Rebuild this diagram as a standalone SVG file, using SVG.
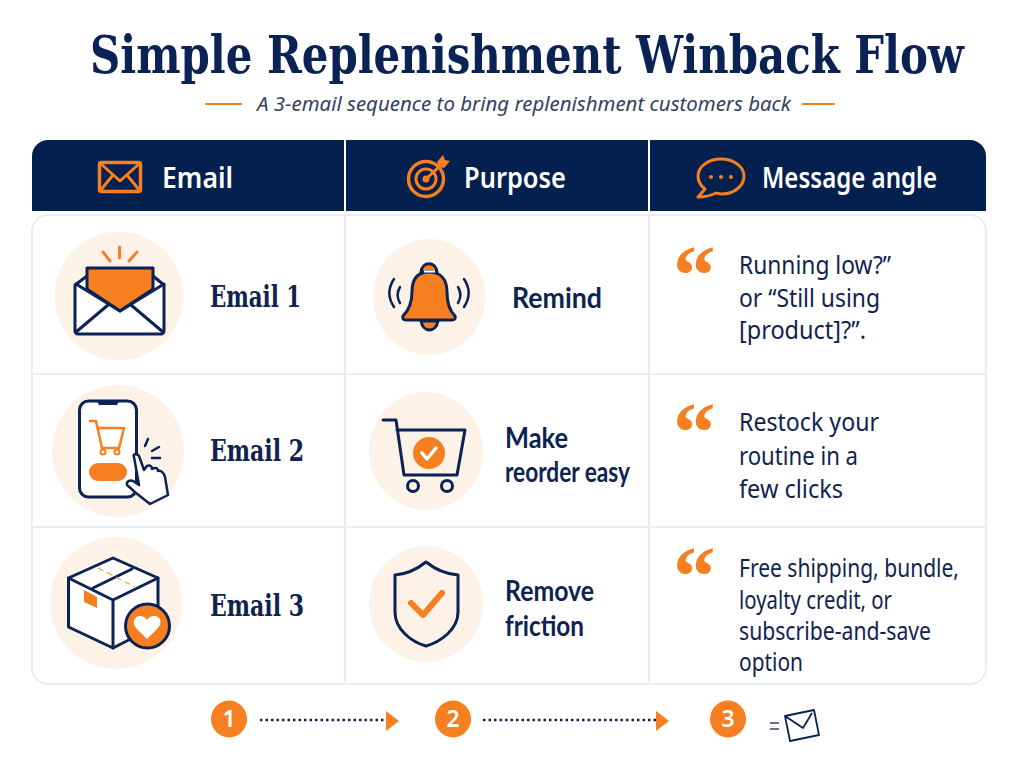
<svg xmlns="http://www.w3.org/2000/svg" width="1024" height="768" viewBox="0 0 1024 768">
<style>
text{font-family:"Noto Sans","Open Sans","Liberation Sans",sans-serif;fill:#0f2350}
.title{font-family:"DejaVu Serif","Liberation Serif",serif;font-stretch:condensed;font-weight:700;font-size:53px;fill:#0b2354}
.sub{font-style:italic;font-size:20px;fill:#33415f}
.hd{font-size:29px;font-weight:600;fill:#fff}
.em{font-family:"DejaVu Serif","Liberation Serif",serif;font-stretch:condensed;font-weight:700;font-size:29px}
.pu{font-family:Lato,"Noto Sans",sans-serif;font-size:28px;font-weight:700}
.msg{font-size:25px;font-weight:400}
.q{font-family:"Liberation Serif",serif;font-weight:700;font-size:85px;fill:#f67f22}
.num{font-size:23px;font-weight:600;fill:#fff;text-anchor:middle}
.n{fill:none;stroke:#0b2354;stroke-width:3;stroke-linejoin:round;stroke-linecap:round}
.o{fill:none;stroke:#f67f22;stroke-width:3;stroke-linejoin:round;stroke-linecap:round}
.w{fill:#fff;stroke:#0b2354;stroke-width:3;stroke-linejoin:round;stroke-linecap:round}
.f{fill:#f67f22}
.bg{fill:#fdf2e8}
.grid{stroke:#e8edf5;stroke-width:2;fill:none}
.step{fill:#f67f22}
.dot{stroke:#0b2354;stroke-width:2.500;stroke-dasharray:2.500 3;fill:none}
</style>
<rect width="1024" height="768" fill="#fff"/>
<g id="title">
<text class="title" transform="translate(90 73) scale(.879 1)">Simple Replenishment Winback Flow</text>
<path d="M205 104H242M802 104H835" stroke="#f67f22" stroke-width="2"/>
<text class="sub" x="257" y="111" textLength="534" lengthAdjust="spacingAndGlyphs">A 3-email sequence to bring replenishment customers back</text>
</g>
<g id="table">
<rect x="32" y="215" width="954" height="469" rx="16" fill="#fff" class="grid"/>
<path class="grid" d="M345 215V684M649 215V684M32 374H986M32 527H986"/>
<path d="M48 140H970a16 16 0 0 1 16 16V211H32V156a16 16 0 0 1 16-16Z" fill="#03204f"/>
<path d="M345 140V211M649 140V211" stroke="#fff" stroke-width="2"/>
</g>
<g id="header-email">
<rect x="99.500" y="162.500" width="41" height="29" rx="2" class="o" style="stroke-width:3.500"/>
<path class="o" d="M100 163L120 181L140 163M100 191L113 175M140 191L127 175"/>
<text class="hd" x="162" y="188" textLength="71" lengthAdjust="spacingAndGlyphs">Email</text>
</g>
<g id="header-purpose">
<circle cx="426" cy="179" r="17.500" class="o" style="stroke-width:3.500"/>
<circle cx="426" cy="179" r="10" class="o"/>
<circle cx="426" cy="179" r="3.500" class="f"/>
<path class="o" d="M426 179L441 165"/>
<path class="f" d="M437 162L443 155L445 160L450 161L444 168L439 167Z"/>
<text class="hd" x="464" y="188" textLength="102" lengthAdjust="spacingAndGlyphs">Purpose</text>
</g>
<g id="header-message">
<path class="o" d="M721 159C708 159 698 167 698 176C698 182 701 186 705 189L698 197C706 197 712 195 716 193C718 193.500 720 194 722 194C734 194 744 186 744 176C744 167 734 159 721 159Z"/>
<circle cx="711" cy="177" r="2" class="f"/><circle cx="721" cy="177" r="2" class="f"/><circle cx="731" cy="177" r="2" class="f"/>
<text class="hd" x="762" y="188" textLength="175" lengthAdjust="spacingAndGlyphs">Message angle</text>
</g>
<g id="email-1">
<circle class="bg" cx="119" cy="296" r="64.500"/>
<path class="o" d="M103 252L110 261M119.500 247V258M137 252L129 261"/>
<path class="w" d="M75 285L87 276H153L164 285V331a3 3 0 0 1-3 3H78a3 3 0 0 1-3-3Z"/>
<path class="n" d="M76 332L108 305M163 332L131 305"/>
<path d="M87 268H153V289L120 311L87 289Z" fill="#f67f22" stroke="#0b2354" stroke-width="3" stroke-linejoin="round"/>
<path class="n" d="M76 284L120 311L164 284"/>
<text class="em" x="210" y="307" textLength="91" lengthAdjust="spacingAndGlyphs">Email 1</text>
</g>
<g id="email-2">
<circle class="bg" cx="118" cy="451" r="66"/>
<rect class="w" x="79.500" y="401" width="57" height="96" rx="9"/>
<path d="M97 401H119L117 405H99Z" fill="#0b2354"/>
<path class="o" style="stroke-width:2.500" d="M90 421H96L102 448H119L124 428H98"/>
<circle class="o" style="stroke-width:2" cx="103" cy="452" r="2.500"/><circle class="o" style="stroke-width:2" cx="117" cy="452" r="2.500"/>
<rect class="f" x="89" y="463" width="38" height="18" rx="9"/>
<path class="n" style="stroke-width:2.500" d="M145 446L148 439M152 451L159 447M152 458H160"/>
<path class="w" style="stroke-width:2.500" d="M134 457C132 454 137 453 139 456L144 470L147 466C150 465 152 466 152 469C155 467 158 468 158 471C161 470 164 473 165 477L168 495L150 504L136 493L127 485C126 481 130 480 133 481L139 485Z"/>
<text class="em" x="210" y="461" textLength="94" lengthAdjust="spacingAndGlyphs">Email 2</text>
</g>
<g id="email-3">
<circle class="bg" cx="116" cy="603" r="66"/>
<path class="w" d="M68.500 578L113 558L158 578V625L113 648L68.500 627Z"/>
<path class="n" d="M68.500 578L113 600L158 578M113 600V648M93 588L132 569"/>
<path d="M98 568L135 587" stroke="#f67f22" stroke-width="1" stroke-dasharray="6 4"/>
<path class="f" d="M84 590L97 597V608L84 602Z"/>
<circle cx="147.500" cy="626" r="22" fill="#f67f22" stroke="#0b2354" stroke-width="3"/>
<path d="M147 639L136 628C131 622 135 616 140 616C143 616 146 618 147 620C148 618 151 616 154 616C160 616 163 622 158 628Z" fill="#fff"/>
<text class="em" x="210" y="616" textLength="94" lengthAdjust="spacingAndGlyphs">Email 3</text>
</g>
<g id="purpose-1">
<ellipse class="bg" cx="429" cy="297" rx="56" ry="58"/>
<path class="f" d="M421 272C422 261 436 261 437 272ZM421 321C423 333 436 333 438 321Z" stroke="#0b2354" stroke-width="3"/>
<path class="f" d="M429 272C417 272 412 280 412 292C412 303 408 311 403 316C402 318 403 320 406 320H452C455 320 456 318 455 316C450 311 447 303 447 292C447 280 441 272 429 272Z" stroke="#0b2354" stroke-width="3" stroke-linejoin="round"/>
<path d="M424 271.500H435" stroke="#fff" stroke-width="2"/>
<path class="n" d="M400 287C397 292 397 298 400 303M394 279C388 288 388 298 394 307" style="stroke-width:2.500"/>
<path class="n" d="M458 287C461 292 461 298 458 303M464 279C470 288 470 298 464 307" style="stroke-width:2.500"/>
<text class="pu" x="512" y="308" textLength="90" lengthAdjust="spacingAndGlyphs">Remind</text>
</g>
<g id="purpose-2">
<ellipse class="bg" cx="426" cy="451" rx="57" ry="59"/>
<path class="n" d="M383 420H396L404 475H457M397 430H465L457 475"/>
<circle cx="429" cy="453" r="16" class="f"/>
<path d="M422 453L427 459L436 448" fill="none" stroke="#fff" stroke-width="3.500" stroke-linecap="round" stroke-linejoin="round"/>
<circle class="n" cx="413" cy="486" r="5.500"/><circle class="n" cx="447" cy="486" r="5.500"/>
<text class="pu" x="505" y="448" textLength="63" lengthAdjust="spacingAndGlyphs">Make</text>
<text class="pu" x="505" y="482" textLength="125" lengthAdjust="spacingAndGlyphs">reorder easy</text>
</g>
<g id="purpose-3">
<ellipse class="bg" cx="426" cy="604" rx="57" ry="58"/>
<path class="n" d="M426 562C416 570 407 574 395 575V612C395 630 412 642 426 646C440 642 458 630 458 612V575C446 574 436 570 426 562Z"/>
<path d="M411 603L423 615L442 593" fill="none" stroke="#f67f22" stroke-width="6" stroke-linecap="round" stroke-linejoin="round"/>
<text class="pu" x="505" y="601" textLength="89" lengthAdjust="spacingAndGlyphs">Remove</text>
<text class="pu" x="505" y="636" textLength="79" lengthAdjust="spacingAndGlyphs">friction</text>
</g>
<g id="message-1">
<text class="q" x="673" y="304">“</text>
<text class="msg"><tspan x="739" y="274" textLength="152" lengthAdjust="spacingAndGlyphs">Running low?”</tspan><tspan x="739" y="307" textLength="141" lengthAdjust="spacingAndGlyphs">or “Still using</tspan><tspan x="739" y="339" textLength="127" lengthAdjust="spacingAndGlyphs">[product]?”.</tspan></text>
</g>
<g id="message-2">
<text class="q" x="673" y="461">“</text>
<text class="msg"><tspan x="739" y="431" textLength="140" lengthAdjust="spacingAndGlyphs">Restock your</tspan><tspan x="739" y="465" textLength="119" lengthAdjust="spacingAndGlyphs">routine in a</tspan><tspan x="739" y="498" textLength="104" lengthAdjust="spacingAndGlyphs">few clicks</tspan></text>
</g>
<g id="message-3">
<text class="q" x="673" y="605">“</text>
<text class="msg"><tspan x="739" y="577" textLength="220" lengthAdjust="spacingAndGlyphs">Free shipping, bundle,</tspan><tspan x="739" y="609" textLength="153" lengthAdjust="spacingAndGlyphs">loyalty credit, or</tspan><tspan x="739" y="640" textLength="192" lengthAdjust="spacingAndGlyphs">subscribe-and-save</tspan><tspan x="739" y="671" textLength="64" lengthAdjust="spacingAndGlyphs">option</tspan></text>
</g>
<g id="step-1"><ellipse class="step" cx="229" cy="719" rx="18" ry="18.500"/><text class="num" x="229" y="727">1</text></g>
<g id="step-2"><ellipse class="step" cx="453" cy="719" rx="18" ry="18.500"/><text class="num" x="453" y="727">2</text></g>
<g id="step-3"><ellipse class="step" cx="728" cy="719" rx="18" ry="18.500"/><text class="num" x="728" y="727">3</text></g>
<g id="connectors">
<path class="dot" d="M260 720H386"/>
<path class="f" d="M386 711L399 721L386 731Z"/>
<path class="dot" d="M483 720H656"/>
<path class="f" d="M656 711L669 721L656 731Z"/>
</g>
<g id="end-mail">
<path d="M770 723H779M770 729H779" stroke="#33415f" stroke-width="1.500"/>
<path d="M785 716L814 710L819 735L790 741ZM785 716L803 728L812 713" fill="none" stroke="#0b2354" stroke-width="1.800" stroke-linejoin="round"/>
</g>
</svg>
